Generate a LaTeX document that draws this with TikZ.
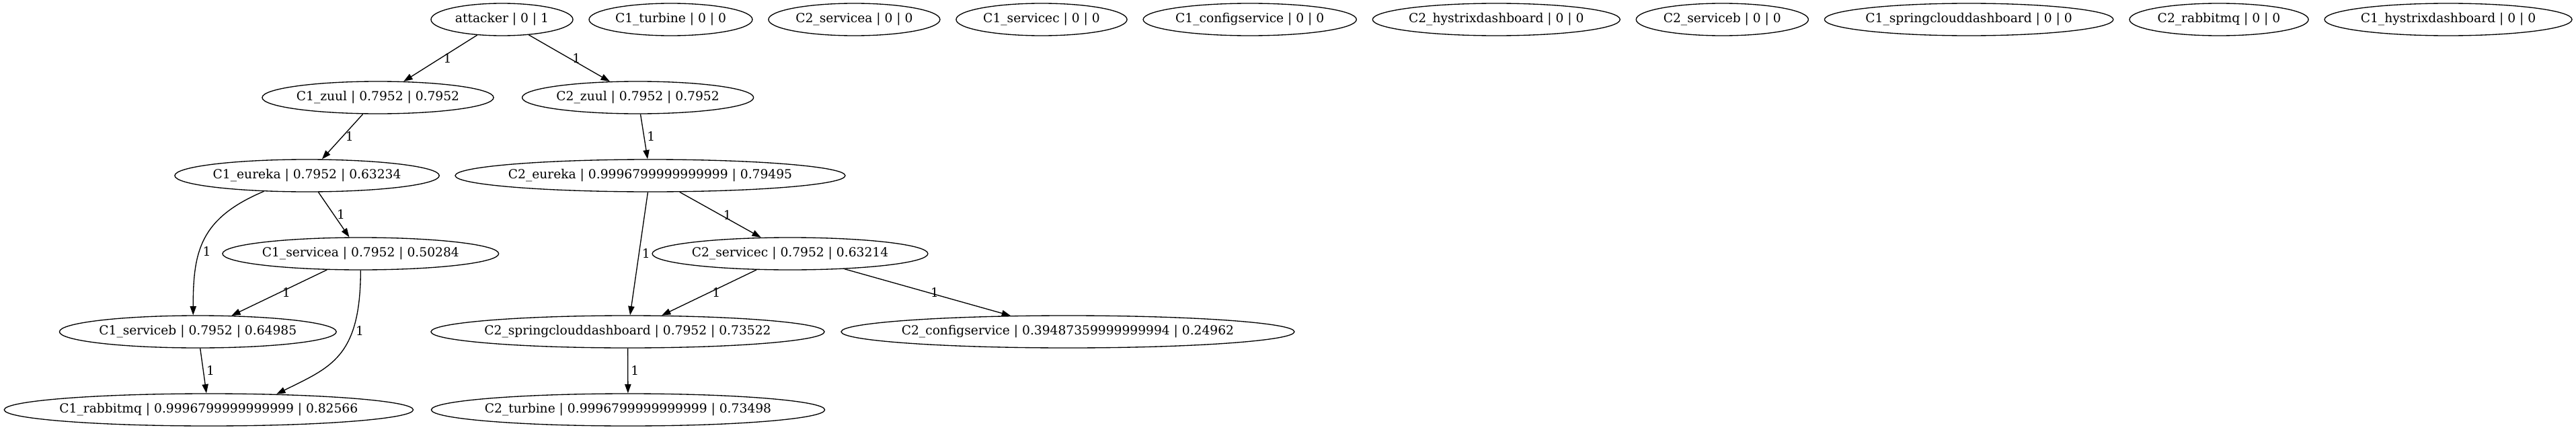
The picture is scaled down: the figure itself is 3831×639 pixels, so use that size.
\documentclass[tikz,border=0pt]{standalone}
\usepackage{fontspec}
\setmainfont{DejaVu Serif}
\usetikzlibrary{arrows.meta,shapes.geometric}
\tikzset{
  svc/.style={draw, ellipse, line width=1pt, inner xsep=-400pt, inner ysep=0pt,
    minimum height=36pt, font=\fontsize{14pt}{16pt}\selectfont},
  dep/.style={draw, line width=1pt, -{Triangle[length=10pt,width=7pt]}},
  wt/.style={right, inner sep=3pt, font=\fontsize{14pt}{16pt}\selectfont}
}
\begin{document}
\begin{tikzpicture}[x=0.75pt,y=-0.75pt]
\useasboundingbox (0,0) rectangle (3831,639);

\node[svc, minimum width=158.3pt] (att) at (746.5,29) {attacker | 0 | 1};
\node[svc, minimum width=182.2pt] (c1turbine) at (997.5,29) {C1\_turbine | 0 | 0};
\node[svc, minimum width=191.3pt] (c2servicea) at (1270.4,29) {C2\_servicea | 0 | 0};
\node[svc, minimum width=190.6pt] (c1servicec) at (1549,29) {C1\_servicec | 0 | 0};
\node[svc, minimum width=237.9pt] (c1config) at (1858.7,29) {C1\_configservice | 0 | 0};
\node[svc, minimum width=276pt] (c2hystrix) at (2225.3,29) {C2\_hystrixdashboard | 0 | 0};
\node[svc, minimum width=192.1pt] (c2serviceb) at (2561.3,29) {C2\_serviceb | 0 | 0};
\node[svc, minimum width=322.1pt] (c1spring) at (2928.1,29) {C1\_springclouddashboard | 0 | 0};
\node[svc, minimum width=199.6pt] (c2rabbit) at (3300,29) {C2\_rabbitmq | 0 | 0};
\node[svc, minimum width=276pt] (c1hystrix) at (3641,29) {C1\_hystrixdashboard | 0 | 0};

\node[svc, minimum width=258.1pt] (c1zuul) at (562,145) {C1\_zuul | 0.7952 | 0.7952};
\node[svc, minimum width=258.1pt] (c2zuul) at (948.6,145) {C2\_zuul | 0.7952 | 0.7952};

\node[svc, minimum width=295pt] (c1eureka) at (456.6,261) {C1\_eureka | 0.7952 | 0.63234};
\node[svc, minimum width=435pt] (c2eureka) at (967,261) {C2\_eureka | 0.9996799999999999 | 0.79495};

\node[svc, minimum width=308pt] (c1servicea) at (536.3,377) {C1\_servicea | 0.7952 | 0.50284};
\node[svc, minimum width=307.4pt] (c2servicec) at (1175,377) {C2\_servicec | 0.7952 | 0.63214};

\node[svc, minimum width=308.8pt] (c1serviceb) at (294.3,493) {C1\_serviceb | 0.7952 | 0.64985};
\node[svc, minimum width=438.8pt] (c2spring) at (933.5,493) {C2\_springclouddashboard | 0.7952 | 0.73522};
\node[svc, minimum width=505.5pt] (c2config) at (1588,493) {C2\_configservice | 0.39487359999999994 | 0.24962};

\node[svc, minimum width=456.2pt] (c1rabbit) at (310.4,609) {C1\_rabbitmq | 0.9996799999999999 | 0.82566};
\node[svc, minimum width=438.9pt] (c2turbine) at (934,609) {C2\_turbine | 0.9996799999999999 | 0.73498};

\draw[dep] (att) -- node[wt]{1} (c1zuul);
\draw[dep] (att) -- node[wt]{1} (c2zuul);
\draw[dep] (c1zuul) -- node[wt]{1} (c1eureka);
\draw[dep] (c2zuul) -- node[wt]{1} (c2eureka);
\draw[dep] (c1eureka) -- node[wt]{1} (c1servicea);
\draw[dep] (c1eureka.200) .. controls +(-95,40) and +(0,-95) .. (c1serviceb.106) node[wt,pos=.6]{1};
\draw[dep] (c1servicea) -- node[wt]{1} (c1serviceb);
\draw[dep] (c1servicea.south) .. controls +(0,130) and +(80,-40) .. (c1rabbit.13) node[wt,pos=.3]{1};
\draw[dep] (c1serviceb) -- node[wt]{1} (c1rabbit);
\draw[dep] (c2eureka) -- node[wt]{1} (c2servicec);
\draw[dep] (c2eureka) -- node[wt]{1} (c2spring);
\draw[dep] (c2servicec) -- node[wt]{1} (c2spring);
\draw[dep] (c2servicec) -- node[wt]{1} (c2config);
\draw[dep] (c2spring) -- node[wt]{1} (c2turbine);
\end{tikzpicture}
\end{document}
